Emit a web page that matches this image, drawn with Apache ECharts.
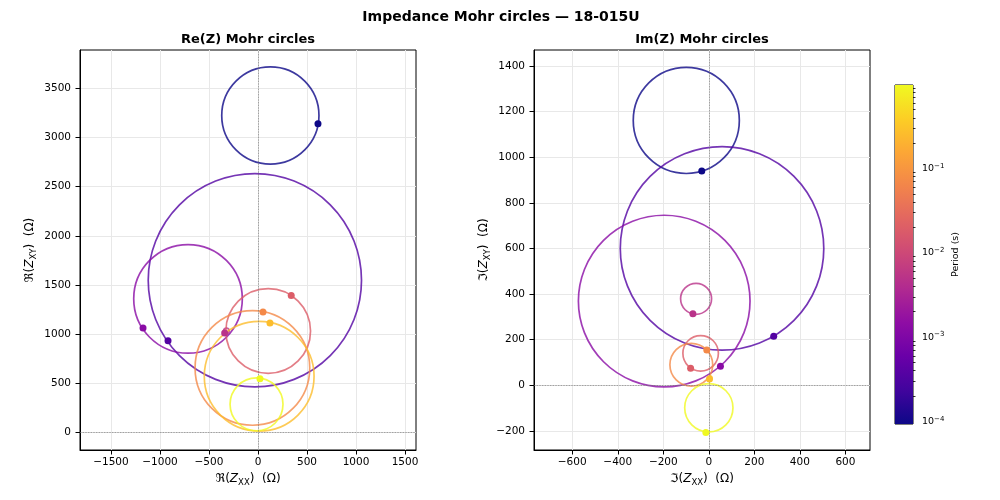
<!DOCTYPE html>
<html>
<head>
<meta charset="utf-8">
<script src="https://cdn.jsdelivr.net/npm/echarts@6/dist/echarts.min.js"></script>
<style>
  html, body { margin: 0; padding: 0; background: #fff; }
  #main { width: 1000px; height: 500px; }
</style>
</head>
<body>
<div id="main"></div>
<script>
// periods (s), one per circle
const periods = [9.3e-5, 3.5e-4, 1.3e-3, 5.0e-3, 1.9e-2, 7.0e-2, 2.6e-1, 9.8e-1];

// Re(Z) circles: centre, radius, and the (Re Zxx, Re Zxy) point
const reCx = [126, -32, -714, -322, 104, -57, 12, -15];
const reCy = [3226, 1547, 1357, 1030, 1029, 653, 567, 282];
const reR = [496, 1088, 554, 28, 432, 585, 560, 270];
const rePx = [612, -918, -1173, -340, 339, 51, 122, 20];
const rePy = [3143, 929, 1061, 1010, 1390, 1224, 1112, 542];

// Im(Z) circles
const imCx = [-99, 58, -196, -56, -36, -77, 5, 0];
const imCy = [1161, 600, 369, 379, 140, 90, 33, -99];
const imR = [233, 447, 377, 68, 78, 94, 8, 106];
const imPx = [-31, 285, 51, -70, -80, -9, 3, -13];
const imPy = [939, 215, 83, 313, 75, 155, 27, -207];

// tick labels
const reXTicks = [-1500, -1000, -500, 0, 500, 1000, 1500];
const reYTicks = [0, 500, 1000, 1500, 2000, 2500, 3000, 3500];
const imXTicks = [-600, -400, -200, 0, 200, 400, 600];
const imYTicks = [-200, 0, 200, 400, 600, 800, 1000, 1200, 1400];
const cbDecades = [-4, -3, -2, -1];
const cbMinorMult = [2, 3, 4, 5, 6, 7, 8, 9];

// axis ranges (equal aspect)
const reXRange = [-1816, 1612];
const reYRange = [-184, 3894];
const imXRange = [-768, 708];
const imYRange = [-284, 1470];

// plasma colormap
const plasmaStops = ['#0d0887', '#41049d', '#6a00a8', '#8f0da4', '#b12a90', '#cc4778',
  '#e16462', '#f2844b', '#fca636', '#fcce25', '#f0f921'];

function hex2rgb(h) {
  return [parseInt(h.slice(1, 3), 16), parseInt(h.slice(3, 5), 16), parseInt(h.slice(5, 7), 16)];
}
function plasma(t) {
  t = Math.max(0, Math.min(1, t));
  const n = plasmaStops.length - 1;
  const i = Math.min(n - 1, Math.floor(t * n));
  const f = t * n - i;
  const a = hex2rgb(plasmaStops[i]), b = hex2rgb(plasmaStops[i + 1]);
  const c = a.map((v, k) => Math.round(v + (b[k] - v) * f));
  return 'rgb(' + c.join(',') + ')';
}

const logMin = Math.log10(periods[0]);
const logMax = Math.log10(periods[periods.length - 1]);
const colors = periods.map(p => plasma((Math.log10(p) - logMin) / (logMax - logMin)));

const cbMinor = [];
cbDecades.concat([0]).forEach(d => {
  cbMinorMult.forEach(m => {
    const v = d - 1 + Math.log10(m);
    if (v > logMin && v < logMax) cbMinor.push(v);
  });
});

const FONT = 'DejaVu Sans';
const minus = v => String(v).replace('-', '\u2212');

const nameRich = {
  r: { fontFamily: FONT, fontSize: 12, color: '#000', lineHeight: 16 },
  i: { fontFamily: FONT, fontSize: 12, fontStyle: 'italic', color: '#000', lineHeight: 16 },
  s: { fontFamily: FONT, fontSize: 8.5, color: '#000', verticalAlign: 'bottom', lineHeight: 10 }
};

function valueAxis(gridIndex, range, ticks, extra) {
  return Object.assign({
    type: 'value',
    gridIndex: gridIndex,
    min: range[0],
    max: range[1],
    axisLine: { show: true, onZero: false, lineStyle: { color: '#000', width: 1 } },
    axisTick: { show: true, length: 4.5, customValues: ticks, lineStyle: { color: '#000', width: 1 } },
    splitLine: { show: true, lineStyle: { color: '#e8e8e8', width: 1 } }
  }, extra);
}

function tickLabels(ticks, margin) {
  return { customValues: ticks, fontFamily: FONT, fontSize: 10.5, color: '#000', formatter: minus, margin: margin };
}

function circleSeries(xi, cx, cy, r) {
  return {
    type: 'custom',
    xAxisIndex: xi, yAxisIndex: xi,
    clip: true,
    silent: true,
    z: 3,
    data: cx.map((v, i) => [v, cy[i], r[i]]),
    encode: { x: 0, y: 1 },
    renderItem: function (params, api) {
      const c = api.coord([api.value(0), api.value(1)]);
      const rr = api.size([api.value(2), 0])[0];
      return {
        type: 'circle',
        shape: { cx: c[0], cy: c[1], r: rr },
        style: { fill: 'none', stroke: colors[params.dataIndex], lineWidth: 1.7, opacity: 0.8 }
      };
    },
    markLine: {
      silent: true,
      symbol: ['none', 'none'],
      label: { show: false },
      lineStyle: { type: 'dotted', color: '#777', width: 0.8 },
      data: [{ xAxis: 0 }, { yAxis: 0 }]
    }
  };
}

function pointSeries(xi, px, py) {
  return {
    type: 'scatter',
    xAxisIndex: xi, yAxisIndex: xi,
    symbolSize: 7,
    z: 5,
    silent: true,
    data: px.map((v, i) => ({ value: [v, py[i]], itemStyle: { color: colors[i], opacity: 1 } }))
  };
}

const chart = echarts.init(document.getElementById('main'), null, { renderer: 'canvas' });

const option = {
  animation: false,
  backgroundColor: '#fff',
  title: [
    { text: 'Impedance Mohr circles \u2014 18-015U', left: 496, textAlign: 'center', top: 5,
      textStyle: { fontFamily: FONT, fontSize: 14, fontWeight: 'bold', color: '#000' } },
    { text: 'Re(Z) Mohr circles', left: 243, textAlign: 'center', top: 28,
      textStyle: { fontFamily: FONT, fontSize: 13, fontWeight: 'bold', color: '#000' } },
    { text: 'Im(Z) Mohr circles', left: 697, textAlign: 'center', top: 28,
      textStyle: { fontFamily: FONT, fontSize: 13, fontWeight: 'bold', color: '#000' } }
  ],
  grid: [
    { left: 80, top: 50, width: 336, height: 400, show: true, borderColor: '#000', borderWidth: 1 },
    { left: 534, top: 50, width: 336, height: 400, show: true, borderColor: '#000', borderWidth: 1 },
    { left: 895, top: 85, width: 18, height: 339, show: true, borderColor: '#000', borderWidth: 1 }
  ],
  xAxis: [
    valueAxis(0, reXRange, reXTicks, {
      position: 'bottom', axisLabel: tickLabels(reXTicks, 7),
      name: '{r|\u211C(}{i|Z}{s|XX}{r|)  (\u03A9)}', nameLocation: 'middle', nameGap: 21,
      nameTextStyle: { rich: nameRich }
    }),
    valueAxis(1, imXRange, imXTicks, {
      position: 'bottom', axisLabel: tickLabels(imXTicks, 7),
      name: '{r|\u2111(}{i|Z}{s|XX}{r|)  (\u03A9)}', nameLocation: 'middle', nameGap: 21,
      nameTextStyle: { rich: nameRich }
    }),
    { type: 'value', gridIndex: 2, min: 0, max: 1, show: false }
  ],
  yAxis: [
    valueAxis(0, reYRange, reYTicks, {
      position: 'left', axisLabel: tickLabels(reYTicks, 9),
      name: '{r|\u211C(}{i|Z}{s|XY}{r|)  (\u03A9)}', nameLocation: 'middle', nameGap: 42, nameRotate: 90,
      nameTextStyle: { rich: nameRich }
    }),
    valueAxis(1, imYRange, imYTicks, {
      position: 'left', axisLabel: tickLabels(imYTicks, 9),
      name: '{r|\u2111(}{i|Z}{s|XY}{r|)  (\u03A9)}', nameLocation: 'middle', nameGap: 42, nameRotate: 90,
      nameTextStyle: { rich: nameRich }
    }),
    {
      type: 'value', gridIndex: 2, position: 'right', min: logMin, max: logMax,
      axisLine: { show: false },
      axisTick: { show: true, length: 4.5, customValues: cbDecades, lineStyle: { color: '#000', width: 1 } },
      axisLabel: {
        customValues: cbDecades, margin: 9,
        formatter: v => '{b|10}{e|' + minus(Math.round(v)) + '}',
        rich: {
          b: { fontFamily: FONT, fontSize: 9.5, color: '#000', lineHeight: 12 },
          e: { fontFamily: FONT, fontSize: 7, color: '#000', verticalAlign: 'top', lineHeight: 12 }
        }
      },
      splitLine: { show: false },
      name: 'Period (s)', nameLocation: 'middle', nameGap: 38, nameRotate: 90,
      nameTextStyle: { fontFamily: FONT, fontSize: 9.5, color: '#000' }
    },
    {
      type: 'value', gridIndex: 2, position: 'right', min: logMin, max: logMax,
      axisLine: { show: false },
      axisTick: { show: true, length: 2.5, customValues: cbMinor, lineStyle: { color: '#000', width: 0.8 } },
      axisLabel: { show: false },
      splitLine: { show: false }
    }
  ],
  series: [
    circleSeries(0, reCx, reCy, reR),
    pointSeries(0, rePx, rePy),
    circleSeries(1, imCx, imCy, imR),
    pointSeries(1, imPx, imPy),
    {
      type: 'custom',
      xAxisIndex: 2, yAxisIndex: 2,
      silent: true,
      data: [[0, logMin, 1, logMax]],
      renderItem: function (params, api) {
        const p0 = api.coord([api.value(0), api.value(1)]);
        const p1 = api.coord([api.value(2), api.value(3)]);
        const stops = plasmaStops.map((c, i) => ({ offset: i / (plasmaStops.length - 1), color: c }));
        return {
          type: 'rect',
          shape: { x: p0[0], y: p1[1], width: p1[0] - p0[0], height: p0[1] - p1[1] },
          style: { fill: new echarts.graphic.LinearGradient(0, 1, 0, 0, stops) }
        };
      }
    }
  ]
};

chart.setOption(option);
</script>
</body>
</html>
